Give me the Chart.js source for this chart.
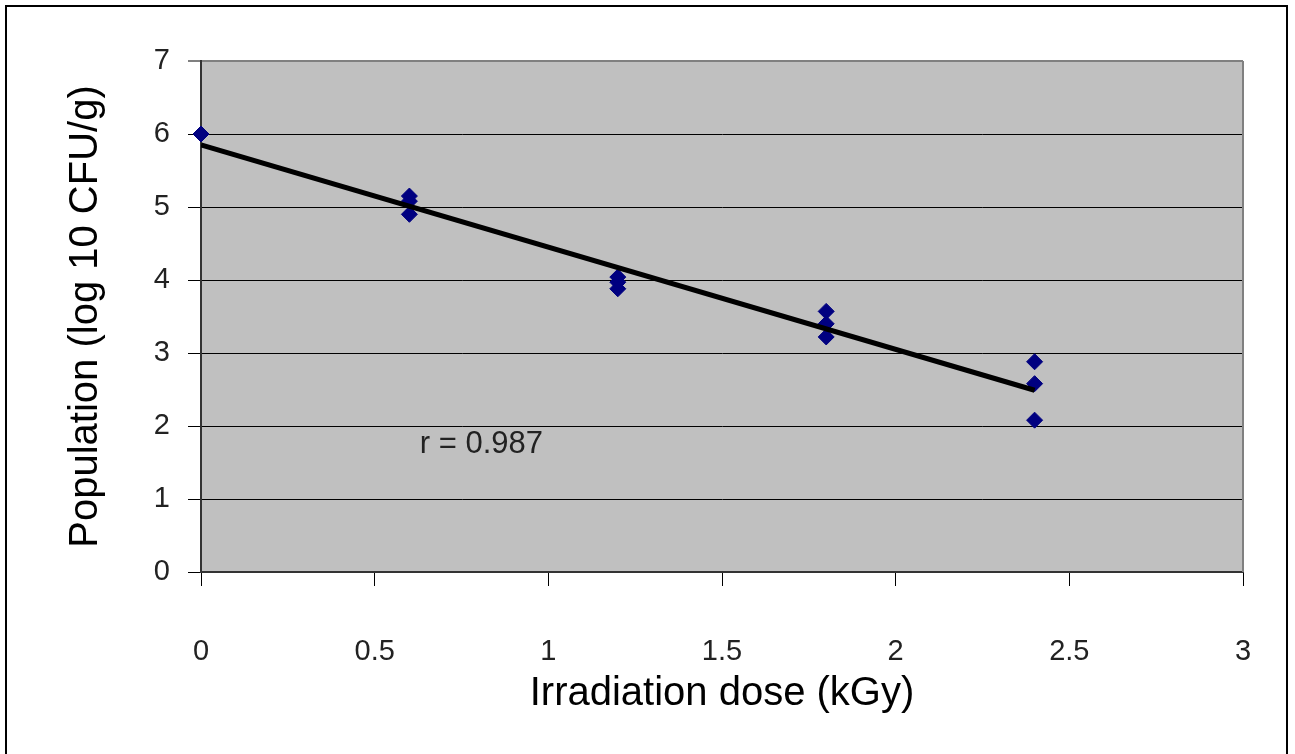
<!DOCTYPE html>
<html>
<head>
<meta charset="utf-8">
<title>Irradiation dose vs population</title>
<script src="https://cdn.jsdelivr.net/npm/chart.js@4/dist/chart.umd.min.js"></script>
<style>
  html, body { margin:0; padding:0; background:#fff; }
  #wrap { width:1295px; height:754px; }
</style>
</head>
<body>
<div id="wrap"><canvas id="doseChart" width="1295" height="754"></canvas></div>
<script>
// observed points (dose kGy, log10 CFU/g)
const doseX = [0, 0.6, 0.6, 0.6, 1.2, 1.2, 1.2, 1.8, 1.8, 1.8, 2.4, 2.4, 2.4];
const popY  = [6.0, 5.15, 5.08, 4.9, 4.04, 3.97, 3.88, 3.57, 3.4, 3.22, 2.88, 2.58, 2.08];

// trend line end points
const trendX = [0, 2.4];
const trendY = [5.85, 2.49];

const xTicks = [0, 0.5, 1, 1.5, 2, 2.5, 3];
const yTicks = [0, 1, 2, 3, 4, 5, 6, 7];

const rLabel = 'r = 0.987';
const rAt = { x: 0.63, y: 1.75 };

const TICK_FONT = { family: '"Liberation Sans", Arial, sans-serif', size: 29 };
const TITLE_FONT = { family: '"Liberation Sans", Arial, sans-serif', size: 40 };

// grey plot area + frame round the whole figure + r label
const decor = {
  id: 'decor',
  beforeDraw(chart){
    const {ctx, chartArea:a} = chart;
    ctx.save();
    ctx.fillStyle = '#c0c0c0';
    ctx.fillRect(a.left, a.top, a.right - a.left, a.bottom - a.top);
    ctx.strokeStyle = '#000';
    ctx.lineWidth = 2;
    ctx.beginPath();
    ctx.moveTo(6, 760); ctx.lineTo(6, 6); ctx.lineTo(1287, 6); ctx.lineTo(1287, 760);
    ctx.stroke();
    ctx.restore();
  },
  afterDatasetsDraw(chart){
    const {ctx, chartArea:a, scales} = chart;
    ctx.save();
    // right edge of plot area in grey
    ctx.strokeStyle = '#808080';
    ctx.lineWidth = 2;
    ctx.beginPath();
    ctx.moveTo(a.right, a.top); ctx.lineTo(a.right, a.bottom);
    ctx.stroke();
    ctx.fillStyle = '#222';
    ctx.font = '31px "Liberation Sans", Arial, sans-serif';
    ctx.textBaseline = 'middle';
    ctx.fillText(rLabel, scales.x.getPixelForValue(rAt.x), scales.y.getPixelForValue(rAt.y));
    ctx.restore();
  }
};

const ctx = document.getElementById('doseChart');
new Chart(ctx, {
  type: 'scatter',
  data: {
    datasets: [
      {
        label: 'Population',
        data: doseX.map((x, i) => ({ x: x, y: popY[i] })),
        pointStyle: 'rectRot',
        pointRadius: 8,
        backgroundColor: '#000080',
        borderColor: '#000080',
        borderWidth: 1,
        clip: false,
        order: 2
      },
      {
        label: 'Trend',
        type: 'line',
        data: trendX.map((x, i) => ({ x: x, y: trendY[i] })),
        borderColor: '#000',
        borderWidth: 5,
        pointRadius: 0,
        fill: false,
        order: 1
      }
    ]
  },
  options: {
    responsive: false,
    animation: false,
    layout: { padding: { top: 61, right: 52, bottom: 0, left: 0 } },
    plugins: { legend: { display: false }, tooltip: { enabled: false } },
    scales: {
      x: {
        type: 'linear',
        min: 0, max: 3,
        afterBuildTicks(s){ s.ticks = xTicks.map(v => ({ value: v })); },
        afterFit(s){ s.height = 182; s.paddingRight = 0; s.paddingLeft = 0; },
        ticks: { font: TICK_FONT, color: '#222', padding: 49, maxRotation: 0, callback: v => String(v) },
        grid: { display: true, drawOnChartArea: false, drawTicks: true, tickLength: 14, color: '#000', lineWidth: 1 },
        border: { display: true, color: '#333', width: 2 },
        title: { display: true, text: 'Irradiation dose (kGy)', font: TITLE_FONT, color: '#000', padding: 36 }
      },
      y: {
        type: 'linear',
        min: 0, max: 7,
        afterBuildTicks(s){ s.ticks = yTicks.map(v => ({ value: v })); },
        afterFit(s){ s.width = 201; s.paddingTop = 0; s.paddingBottom = 0; },
        ticks: { font: TICK_FONT, color: '#222', padding: 18, callback: v => String(v) },
        grid: {
          drawOnChartArea: true, drawTicks: true, tickLength: 13,
          color: c => (c.tick && c.tick.value === 7) ? '#808080' : '#000',
          lineWidth: c => (c.tick && c.tick.value === 7) ? 2 : 1
        },
        border: { display: true, color: '#333', width: 2 },
        title: { display: true, text: 'Population (log 10 CFU/g)', font: TITLE_FONT, color: '#000', padding: 62 }
      }
    }
  },
  plugins: [decor]
});
</script>
</body>
</html>
